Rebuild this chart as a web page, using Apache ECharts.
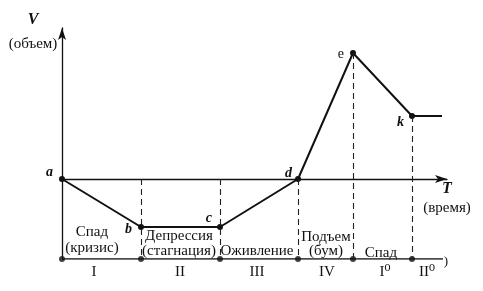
<!DOCTYPE html>
<html><head><meta charset="utf-8">
<script src="https://cdn.jsdelivr.net/npm/echarts@6/dist/echarts.min.js"></script>
<style>html,body{margin:0;padding:0;background:#fff}#c{width:483px;height:291px}</style>
</head><body><div id="c"></div>
<script>
// Business-cycle curve: time (T) and volume (V)
const pointNames = ['a','b','c','d','e','k',''];
const timeVals   = [0, 79, 158, 236, 291, 350, 380];
const volumeVals = [0, -48, -48, 0, 126, 63, 63];
// Phase boundaries on the lower scale
const phaseBounds = [0, 79, 158, 236, 291, 350];
// Dashed guide lines: top level of each (drop down to the lower scale)
const guideT   = [79, 158, 236, 291, 350];
const guideTop = [0, 0, 0, 126, 63];
const phaseBase = -80;
// Phase labels
const phaseText = [
  {lines:['Спад','(кризис)'], num:'I'},
  {lines:['Депрессия','(стагнация)'], num:'II'},
  {lines:['Оживление'], num:'III'},
  {lines:['Подъем','(бум)'], num:'IV'},
  {lines:['Спад'], num:'I⁰'},
  {lines:[], num:'II⁰'}
];

const FONT = '"Liberation Serif", "DejaVu Serif", serif';
const chart = echarts.init(document.getElementById('c'), null, {renderer:'canvas'});

const labelPos = {
  a:{position:'left', offset:[-1,-7]},
  b:{position:'left', offset:[-1,2]},
  c:{position:'left', offset:[0,-9]},
  d:{position:'left', offset:[2,-6]},
  e:{position:'left', offset:[-1,1], fontStyle:'normal', fontWeight:'normal', fontSize:14},
  k:{position:'left', offset:[0,6]}
};

const mainData = timeVals.map((t,i)=>{
  const nm = pointNames[i];
  const item = {value:[t, volumeVals[i]], name:nm};
  if(!nm){ item.symbolSize = 0; item.label = {show:false}; }
  else item.label = Object.assign({show:true}, labelPos[nm]);
  return item;
});

const guideLines = guideT.map((t,i)=>[{coord:[t, guideTop[i]]},{coord:[t, phaseBase]}]);

// positions of phase text (pixel centres)
const textCenters = [
  {x:92, ys:[232,248]},
  {x:179, ys:[236,251]},
  {x:257, ys:[251]},
  {x:326, ys:[237,251]},
  {x:381, ys:[253]},
  {x:0, ys:[]}
];
const numCenters = [94, 180, 257, 327, 385, 427];

const graphics = [];
const txt = (x,y,s,font)=>graphics.push({type:'text', x, y,
  style:{text:s, font, fill:'#111', textAlign:'center', textVerticalAlign:'middle'}});
phaseText.forEach((p,i)=>{
  p.lines.forEach((ln,j)=> txt(textCenters[i].x, textCenters[i].ys[j], ln, '15px '+FONT));
  txt(numCenters[i], 272, p.num, '15px '+FONT);
});
txt(33, 20, 'V', 'italic bold 16px '+FONT);
txt(33, 44, '(объем)', '15px '+FONT);
txt(447, 189, 'T', 'italic bold 16px '+FONT);
txt(447, 208, '(время)', '15px '+FONT);
txt(446, 262, ')', '13px '+FONT);

chart.setOption({
  animation:false,
  backgroundColor:'#fff',
  grid:{left:62, right:36, top:28, bottom:32},
  xAxis:{type:'value', min:0, max:385,
    axisLine:{show:true, onZero:true, symbol:['none','arrow'], symbolSize:[6,12], lineStyle:{color:'#111', width:1.3}},
    axisTick:{show:false}, axisLabel:{show:false}, splitLine:{show:false}},
  yAxis:{type:'value', min:phaseBase, max:151,
    axisLine:{show:true, onZero:false, symbol:['none','arrow'], symbolSize:[6,12], lineStyle:{color:'#111', width:1.3}},
    axisTick:{show:false}, axisLabel:{show:false}, splitLine:{show:false}},
  graphic: graphics,
  series:[
    {type:'line', data:[[0,phaseBase],[381,phaseBase]], symbol:'none',
     lineStyle:{color:'#111', width:1.4}, silent:true,
     markLine:{silent:true, symbol:['none','none'], label:{show:false},
       lineStyle:{type:[6,4], color:'#222', width:1.1}, data:guideLines}},
    {type:'scatter', data:phaseBounds.map(t=>[t,phaseBase]), symbol:'circle', symbolSize:6,
     itemStyle:{color:'#111'}, silent:true},
    {type:'line', data:mainData, symbol:'circle', symbolSize:6,
     itemStyle:{color:'#111'}, lineStyle:{color:'#111', width:2},
     label:{show:true, formatter:p=>p.name, fontFamily:FONT, fontStyle:'italic', fontWeight:'bold', fontSize:14, color:'#111'}}
  ]
});
</script></body></html>
